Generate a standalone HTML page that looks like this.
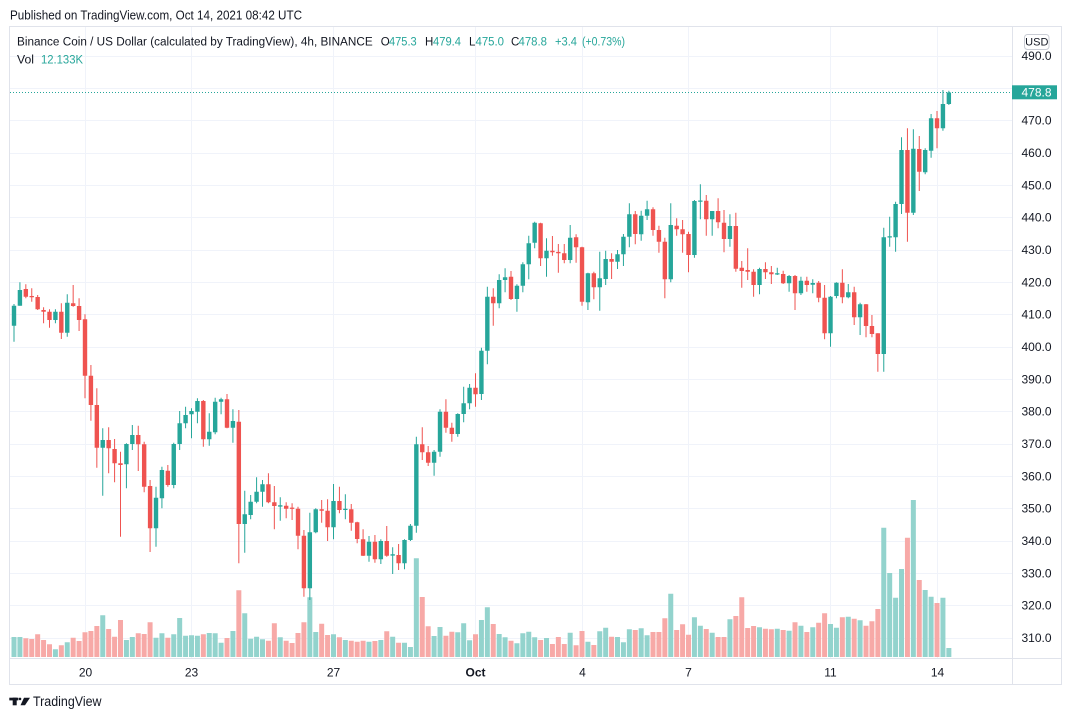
<!DOCTYPE html>
<html><head><meta charset="utf-8"><style>
html,body{margin:0;padding:0;background:#fff;width:1071px;height:720px;overflow:hidden}
svg{display:block;font-family:"Liberation Sans",sans-serif}
.ns{vector-effect:non-scaling-stroke;fill:none}
.gw{stroke:#26a69a;stroke-width:1}
.rw{stroke:#ef5350;stroke-width:1}
.gb{stroke:#26a69a;stroke-width:4.4}
.rb{stroke:#ef5350;stroke-width:4.4}
.gv{stroke:#93d3cd;stroke-width:5}
.rv{stroke:#f7a9a7;stroke-width:5}
.ax{font-size:12px;fill:#131722}
</style></head><body>
<svg width="1071" height="720" viewBox="0 0 1071 720" xmlns="http://www.w3.org/2000/svg">
<rect x="0" y="0" width="1071" height="720" fill="#fff"/>
<text x="10" y="19.5" font-size="12.5" fill="#131722" textLength="292" lengthAdjust="spacingAndGlyphs">Published on TradingView.com, Oct 14, 2021 08:42 UTC</text>

<!-- grid -->
<g stroke="#f0f3fa" stroke-width="1">
<path d="M10 56.5H1012M10 88.5H1012M10 120.5H1012M10 153.5H1012M10 185.5H1012M10 217.5H1012M10 250.5H1012M10 282.5H1012M10 314.5H1012M10 347.5H1012M10 379.5H1012M10 411.5H1012M10 444.5H1012M10 476.5H1012M10 508.5H1012M10 541.5H1012M10 573.5H1012M10 605.5H1012M10 638.5H1012"/>
<path d="M85.5 27V658M191.5 27V658M333.5 27V658M475.5 27V658M582.5 27V658M688.5 27V658M830.5 27V658M937.5 27V658"/>
</g>

<!-- frame -->
<g stroke="#e0e3eb" stroke-width="1" fill="none">
<rect x="9.5" y="26.5" width="1052" height="658"/>
<path d="M1012.5 27V685M10 658.5H1062"/>
</g>

<!-- last price line -->
<path d="M10 92.5H1012" stroke="#26a69a" stroke-width="1" stroke-dasharray="1 2"/>

<svg x="11.04" y="0" width="940.77" height="720" viewBox="0 0 159 720" preserveAspectRatio="none" overflow="visible">
<!-- volume -->
<path class="ns gv" d="M0.5 657V637M1.5 657V637M7.5 657V649.3M9.5 657V642.3M15.5 657V615.3M19.5 657V640M20.5 657V637M24.5 657V637.7M25.5 657V633.3M27.5 657V634.3M28.5 657V618M29.5 657V635.7M30.5 657V635.3M31.5 657V635.7M33.5 657V633M34.5 657V633.3M35.5 657V642.7M37.5 657V631M39.5 657V613.3M40.5 657V638.7M41.5 657V636.7M42.5 657V639.3M45.5 657V637.3M50.5 657V597.3M51.5 657V632M54.5 657V634.3M56.5 657V640M60.5 657V641.7M62.5 657V640M64.5 657V636.7M66.5 657V642.7M67.5 657V647M68.5 657V558.3M71.5 657V636M72.5 657V627M75.5 657V632.3M76.5 657V623.3M77.5 657V640.3M79.5 657V620M80.5 657V607.3M82.5 657V634M83.5 657V637.3M85.5 657V643.3M86.5 657V633.3M87.5 657V631.7M88.5 657V637.3M90.5 657V638M94.5 657V632.7M97.5 657V641.7M99.5 657V631.3M100.5 657V627.7M102.5 657V637M103.5 657V642.3M104.5 657V629.3M106.5 657V628.3M107.5 657V635.3M111.5 657V593.7M115.5 657V617.3M116.5 657V625.7M118.5 657V632.7M121.5 657V619.3M126.5 657V627.3M129.5 657V628.7M131.5 657V630.7M133.5 657V625.7M135.5 657V627.3M138.5 657V624M139.5 657V627.7M141.5 657V616.7M143.5 657V620.3M147.5 657V527.7M148.5 657V573M149.5 657V597.7M150.5 657V569M152.5 657V500M154.5 657V590M155.5 657V596.7M157.5 657V597.7M158.5 657V648"/>
<path class="ns rv" d="M2.5 657V638.3M3.5 657V639M4.5 657V634.3M5.5 657V640M6.5 657V644.3M8.5 657V645.3M10.5 657V637.7M11.5 657V641M12.5 657V632.3M13.5 657V631M14.5 657V626M16.5 657V629M17.5 657V636.7M18.5 657V620M21.5 657V633.3M22.5 657V634M23.5 657V622.3M26.5 657V637.7M32.5 657V634.3M36.5 657V638M38.5 657V590.3M43.5 657V640.7M44.5 657V623.3M46.5 657V640.7M47.5 657V643M48.5 657V633M49.5 657V622.3M52.5 657V623.7M53.5 657V635M55.5 657V637.3M57.5 657V640.7M58.5 657V641.7M59.5 657V640.7M61.5 657V641M63.5 657V631.3M65.5 657V642.7M69.5 657V597M70.5 657V626.3M73.5 657V635.7M74.5 657V631.7M78.5 657V634.3M81.5 657V624M84.5 657V640.7M89.5 657V640M91.5 657V644M92.5 657V637M93.5 657V644M95.5 657V645.3M96.5 657V631M98.5 657V645M101.5 657V636.7M105.5 657V630M108.5 657V632M109.5 657V632M110.5 657V618.3M112.5 657V630M113.5 657V624.3M114.5 657V634.7M117.5 657V629M119.5 657V637M120.5 657V637M122.5 657V616M123.5 657V597.3M124.5 657V628M125.5 657V626M127.5 657V628.7M128.5 657V629.3M130.5 657V630M132.5 657V622.3M134.5 657V632M136.5 657V622.7M137.5 657V613.3M140.5 657V617.3M142.5 657V618.7M144.5 657V625.7M145.5 657V621.3M146.5 657V609M151.5 657V537.7M153.5 657V580M156.5 657V603"/>

<!-- green wicks -->
<path class="ns gw" d="M0.5 304V341.7M1.5 282.3V305.7M7.5 309.3V323.3M9.5 294.3V336.7M15.5 428.3V495.7M19.5 443.3V488.3M20.5 425V450M24.5 486.7V546.7M25.5 466.7V508.3M27.5 442.7V488.3M28.5 411V450M29.5 406.7V428.3M30.5 408.3V438.3M31.5 398.3V423.3M33.5 413.3V445.7M34.5 397.7V434.3M35.5 397.7V414.3M37.5 409.3V442.7M39.5 490.7V552.7M40.5 495V519.3M41.5 477.3V503.3M42.5 480V506.7M45.5 497.3V520.7M50.5 512.7V600M51.5 508.3V533.3M54.5 484V539.3M56.5 494.3V519.3M60.5 536V561.7M62.5 539.3V564M64.5 547.3V574M66.5 539.3V569.3M67.5 524V541M68.5 436.7V532.7M71.5 450V475.7M72.5 409.3V456.7M75.5 413.3V436.7M76.5 386.7V422.3M77.5 384V409.3M79.5 347.7V400M80.5 286.7V364.3M82.5 274.3V308.3M83.5 268.3V292.3M85.5 284.3V311.7M86.5 262.3V292.3M87.5 235.7V279.3M88.5 221.7V248.3M90.5 238.3V276.7M94.5 225V263.3M97.5 272.7V310M99.5 251.7V310.7M100.5 250.7V285M102.5 250V269M103.5 234V266M104.5 203.3V247.3M106.5 210.7V240.7M107.5 200.7V220M111.5 203.3V282.3M115.5 200V257.7M116.5 184.3V219.3M118.5 211V235.7M121.5 214.3V246.7M126.5 267.7V294.3M129.5 267.7V275M131.5 275V291.7M133.5 276.7V295M135.5 279.3V293.3M138.5 296V346.7M139.5 282.3V298.3M141.5 284V298.3M143.5 302.7V335M147.5 227.7V371.7M148.5 216.7V246.7M149.5 201.7V251.7M150.5 137.3V214M152.5 129.3V215M154.5 148.3V174.3M155.5 114V157.7M157.5 90V130.7M158.5 90.7V105"/>
<!-- red wicks -->
<path class="ns rw" d="M2.5 284.3V298.3M3.5 288.3V301.7M4.5 295V310M5.5 307.3V323.3M6.5 309.3V327.7M8.5 303.3V339M10.5 285V306.7M11.5 298.3V331M12.5 314.3V398.3M13.5 365V420.7M14.5 388.3V467.7M16.5 427.3V473.3M17.5 439V482.3M18.5 451.7V536.7M21.5 425.7V471M22.5 441.7V492.3M23.5 480V552M26.5 465V486.7M32.5 400V446.7M36.5 394V428.3M38.5 410V563.3M43.5 473.3V503.3M44.5 486V529.3M46.5 502.3V518.3M47.5 503.3V520M48.5 506.7V549.3M49.5 530V596.7M52.5 500V522.7M53.5 499.3V541M55.5 486.7V513.3M57.5 504V530.7M58.5 521.7V543.3M59.5 529.3V556M61.5 535V562.7M63.5 526V556.7M65.5 544V570M69.5 427.3V460M70.5 446V466M73.5 399.3V432.7M74.5 422.7V441.7M78.5 373.3V406.7M81.5 288.3V325.7M84.5 271V300M89.5 222.7V266M91.5 236V255.7M92.5 244V272.7M93.5 244V263.3M95.5 234.3V262.7M96.5 246.7V305.7M98.5 271.7V299.3M101.5 253.3V279M105.5 211V244.3M108.5 207.3V235.7M109.5 225.7V252.7M110.5 237.7V298.3M112.5 218.3V235.7M113.5 220V252.7M114.5 231.7V272.3M117.5 195V235.7M119.5 198.3V228.3M120.5 210V252.3M122.5 212.7V271.7M123.5 261V287.7M124.5 248.3V280M125.5 269.3V296.7M127.5 262.3V279M128.5 266V284M130.5 270.7V284M132.5 275V310M134.5 276.7V291.7M136.5 281V302.3M137.5 285V339.3M140.5 269.3V303.3M142.5 286.7V325M144.5 304V337.3M145.5 315V337.3M146.5 333.3V371.7M151.5 128.3V241.7M153.5 136V191M156.5 111V148.3"/>
<!-- green bodies -->
<path class="ns gb" d="M0.5 305.7V325.7M1.5 290V305.7M7.5 311.7V320M9.5 302.7V332.7M15.5 440V447.7M19.5 444V464.3M20.5 435V444M24.5 497.7V528.3M25.5 470V498.3M27.5 444V485M28.5 423.3V444M29.5 415V423.3M30.5 411V414.3M31.5 401V411.7M33.5 431.7V439.3M34.5 401.7V432.3M35.5 399.3V401.7M37.5 421V427.7M39.5 514.3V524M40.5 501.7V515M41.5 491.7V501.7M42.5 484.3V491.7M45.5 505.3V506.6M50.5 532.3V588.3M51.5 509.3V532.3M54.5 501V527.3M56.5 508.7V510M60.5 541.7V555.7M62.5 541V559.3M64.5 554.3V555.6M66.5 540V563.3M67.5 525.7V540M68.5 444.3V525.7M71.5 451.7V462.7M72.5 411.7V451.7M75.5 414V434M76.5 403.3V414M77.5 387.7V403.3M79.5 350.7V394M80.5 296.7V350.7M82.5 280V303.3M83.5 277.3V280M85.5 285.7V299M86.5 264.3V285.7M87.5 243.3V264.3M88.5 222.7V242.7M90.5 250.7V258.3M94.5 237.7V260M97.5 273.3V302.3M99.5 278.3V287.3M100.5 259V279M102.5 254.3V261.7M103.5 236.7V254.3M104.5 214.3V236.7M106.5 215.7V234.3M107.5 209.3V215.7M111.5 225V279.3M115.5 201V255M116.5 200.5V201.8M118.5 211V219.3M121.5 226V239M126.5 269V285M129.5 273.2V274.5M131.5 276V283.3M133.5 280.7V293.3M135.5 283V284.7M138.5 296.7V333.3M139.5 282.7V296M141.5 292.3V297.3M143.5 304.3V317.3M147.5 237.3V354M148.5 236.2V237.5M149.5 204V237.3M150.5 150V204M152.5 148.7V212.7M154.5 150V172.3M155.5 118.3V150.7M157.5 104V128.3M158.5 92.5V104"/>
<!-- red bodies -->
<path class="ns rb" d="M2.5 289V296.7M3.5 296V297.3M4.5 297V309.3M5.5 310V311.7M6.5 311.7V320M8.5 311.7V332.7M10.5 303.3V306M11.5 306V320M12.5 319.3V375.7M13.5 375.7V405M14.5 405V447.7M16.5 440V448.3M17.5 449V463.3M18.5 463.3V465M21.5 435V444.3M22.5 444.3V486.7M23.5 486V528.3M26.5 470.7V485M32.5 401V439.3M36.5 399.3V427.7M38.5 421.7V524M43.5 484.3V502.3M44.5 502.3V506M46.5 505.7V508.7M47.5 507.6V508.9M48.5 508.7V535.7M49.5 535.7V588.3M52.5 509.3V510.7M53.5 510.7V527.3M55.5 501V510M57.5 509.3V522.7M58.5 522.3V539M59.5 539.3V555.7M61.5 541.7V559.3M63.5 541V555.7M65.5 555V563.3M69.5 444.3V452.3M70.5 452.3V462.7M73.5 411.7V427.7M74.5 427.7V434M78.5 387.7V394.3M81.5 296.7V303.3M84.5 276.7V299M89.5 223.3V258.3M91.5 250.7V252.3M92.5 251.9V253.2M93.5 253.3V260M95.5 237.3V247.3M96.5 247.3V301.7M98.5 273.3V287.3M101.5 259V261.7M105.5 214.3V234M108.5 209.3V230M109.5 230V241.7M110.5 241.7V279.3M112.5 225.7V229.3M113.5 229.3V234.3M114.5 234V255M117.5 200.7V219.3M119.5 211V222.3M120.5 222.7V239M122.5 226V268.7M123.5 267.7V271M124.5 270V271.7M125.5 271.7V285M127.5 269V272.3M128.5 272.3V274.3M130.5 274V283.3M132.5 276V293.3M134.5 280.7V285M136.5 282.7V297.7M137.5 297.7V333.3M140.5 282.7V297.3M142.5 292.3V317.3M144.5 304.3V326M145.5 326V334M146.5 333.3V354M151.5 150V212.7M153.5 149V171.7M156.5 118.3V128.3"/>
</svg>

<!-- legend -->
<g font-size="11.5">
<text x="17" y="45.5" fill="#131722" textLength="355.7" lengthAdjust="spacingAndGlyphs">Binance Coin / US Dollar (calculated by TradingView), 4h, BINANCE</text>
<text x="380.7" y="45.5" fill="#131722">O</text>
<text x="389" y="45.5" fill="#26a69a" textLength="27.7" lengthAdjust="spacingAndGlyphs">475.3</text>
<text x="425" y="45.5" fill="#131722">H</text>
<text x="433" y="45.5" fill="#26a69a" textLength="28" lengthAdjust="spacingAndGlyphs">479.4</text>
<text x="469" y="45.5" fill="#131722">L</text>
<text x="475.5" y="45.5" fill="#26a69a" textLength="28.5" lengthAdjust="spacingAndGlyphs">475.0</text>
<text x="511" y="45.5" fill="#131722">C</text>
<text x="518.5" y="45.5" fill="#26a69a" textLength="28.5" lengthAdjust="spacingAndGlyphs">478.8</text>
<text x="555" y="45.5" fill="#26a69a" textLength="22" lengthAdjust="spacingAndGlyphs">+3.4</text>
<text x="582" y="45.5" fill="#26a69a" textLength="43" lengthAdjust="spacingAndGlyphs">(+0.73%)</text>
<text x="17" y="63.5" fill="#131722" textLength="17" lengthAdjust="spacingAndGlyphs">Vol</text>
<text x="41" y="63.5" fill="#26a69a" textLength="42" lengthAdjust="spacingAndGlyphs">12.133K</text>
</g>

<!-- price axis -->
<rect x="1024.5" y="34.5" width="24.5" height="15" rx="3" ry="3" fill="#fff" stroke="#c9ccd4" stroke-width="1"/>
<text x="1036.8" y="45.5" font-size="11" fill="#131722" text-anchor="middle">USD</text>
<g class="ax">
<text x="1021.5" y="60">490.0</text>
<text x="1021.5" y="124.7">470.0</text>
<text x="1021.5" y="157">460.0</text>
<text x="1021.5" y="189.3">450.0</text>
<text x="1021.5" y="221.7">440.0</text>
<text x="1021.5" y="254">430.0</text>
<text x="1021.5" y="286.3">420.0</text>
<text x="1021.5" y="318.7">410.0</text>
<text x="1021.5" y="351">400.0</text>
<text x="1021.5" y="383.3">390.0</text>
<text x="1021.5" y="415.7">380.0</text>
<text x="1021.5" y="448">370.0</text>
<text x="1021.5" y="480.3">360.0</text>
<text x="1021.5" y="512.7">350.0</text>
<text x="1021.5" y="545">340.0</text>
<text x="1021.5" y="577.3">330.0</text>
<text x="1021.5" y="609.7">320.0</text>
<text x="1021.5" y="642">310.0</text>
</g>
<rect x="1012" y="85.3" width="45" height="14" fill="#26a69a"/>
<text x="1021.5" y="96.6" font-size="12" fill="#fff">478.8</text>

<!-- time axis -->
<g class="ax" text-anchor="middle">
<text x="85.5" y="676.5">20</text>
<text x="191.5" y="676.5">23</text>
<text x="333.5" y="676.5">27</text>
<text x="475.5" y="676.5" font-weight="bold">Oct</text>
<text x="582.5" y="676.5">4</text>
<text x="688.5" y="676.5">7</text>
<text x="830.5" y="676.5">11</text>
<text x="937.5" y="676.5">14</text>
</g>

<!-- footer logo -->
<g fill="#131722">
<rect x="9.3" y="697.7" width="9" height="2.7"/>
<rect x="12.7" y="697.7" width="4" height="7.6"/>
<circle cx="20" cy="698.9" r="1.3"/>
<polygon points="24,697.7 30,697.7 25,705.3 20.5,705.3"/>
</g>
<text x="33" y="706" font-size="13.5" fill="#131722" textLength="68.5" lengthAdjust="spacingAndGlyphs">TradingView</text>
</svg>
</body></html>
